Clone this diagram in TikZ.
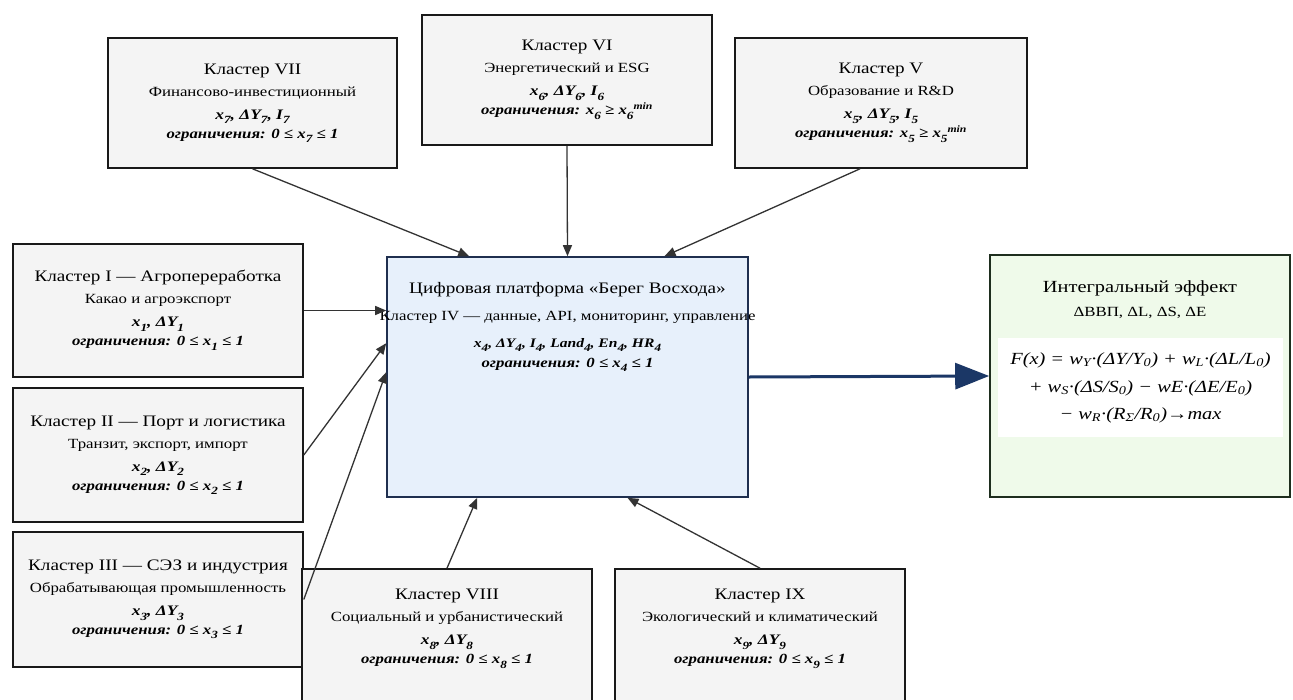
\documentclass[tikz,border=0pt]{standalone}
\usepackage{fontspec}
\setmainfont{Liberation Serif}[FakeStretch=1.2]
\usetikzlibrary{arrows.meta,calc}
\newcommand{\fsz}[1]{\fontsize{#1}{21}\selectfont}
\newcommand{\sbs}[1]{\textsubscript{#1}}
\newcommand{\bsb}[1]{\raisebox{-0.32em}{\fontsize{11}{12}\selectfont #1}}
\newcommand{\mth}{\bfseries\itshape}
\definecolor{clfill}{HTML}{F4F4F4}
\definecolor{cfill}{HTML}{E7F0FB}
\definecolor{cborder}{HTML}{1F2F4F}
\definecolor{rfill}{HTML}{EFFAEA}
\definecolor{rborder}{HTML}{1E2E1E}
\definecolor{navy}{HTML}{1B3766}
\definecolor{conncol}{HTML}{333333}
\newcommand{\cltext}[4]{{\fsz{16}#1}\\[1pt]{\fsz{14}#2}\\[2pt]{\fsz{14.5}\mth #3}\\[-2pt]{\fsz{14}\mth #4}}
\begin{document}
\begin{tikzpicture}[x=1pt,y=-1pt,
  clbox/.style={draw=black!90, line width=1.6pt, fill=clfill, minimum width=290pt, minimum height=130pt, inner sep=0pt, align=center, font=\fontsize{14}{21}\selectfont},
  cltxt/.style={align=center, inner sep=0pt, font=\fontsize{14}{21}\selectfont},
  conn/.style={draw=conncol, line width=1.3pt, -{Triangle[length=11pt,width=9pt]}},
]
\clip (0,0) rectangle (1293,699);
\fill[white] (0,0) rectangle (1293,699);

% central platform
\node[draw=cborder, line width=1.6pt, fill=cfill, minimum width=361pt, minimum height=240pt, inner sep=0pt] (c) at (567.5,377) {};
\node[align=center, inner sep=0pt, font=\fontsize{14}{25}\selectfont] (ctxt) at (567.5,327)
 {{\fontsize{16}{25}\selectfont Цифровая платформа «Берег Восхода»}\\[2pt]
  Кластер IV — данные, API, мониторинг, управление\\[2pt]
  {\fontsize{13}{25}\selectfont\mth x\bsb{4}, ΔY\bsb{4}, I\bsb{4}, Land\bsb{4}, En\bsb{4}, HR\bsb{4}}\\[-5pt]
  {\fontsize{14}{25}\selectfont\mth ограничения: 0 ≤ x\bsb{4} ≤ 1}};

% top clusters
\node[clbox, minimum width=289pt] (vii) at (252.5,103)
 {\cltext{Кластер VII}{Финансово-инвестиционный}{x\bsb{7}, ΔY\bsb{7}, I\bsb{7}}{ограничения: 0 ≤ x\bsb{7} ≤ 1}};
\node[clbox] (vi) at (567,80)
 {\cltext{Кластер VI}{Энергетический и ESG}{x\bsb{6}, ΔY\bsb{6}, I\bsb{6}}{ограничения: x\bsb{6} ≥ x\bsb{6}\textsuperscript{min}}};
\node[clbox, minimum width=292pt] (v) at (881,103)
 {\cltext{Кластер V}{Образование и R\&D}{x\bsb{5}, ΔY\bsb{5}, I\bsb{5}}{ограничения: x\bsb{5} ≥ x\bsb{5}\textsuperscript{min}}};

% left clusters
\node[clbox, minimum height=133pt] (i) at (158,310.5)
 {\cltext{Кластер I — Агропереработка}{Какао и агроэкспорт}{x\bsb{1}, ΔY\bsb{1}}{ограничения: 0 ≤ x\bsb{1} ≤ 1}};
\node[clbox, minimum height=134pt] (ii) at (158,455)
 {\cltext{Кластер II — Порт и логистика}{Транзит, экспорт, импорт}{x\bsb{2}, ΔY\bsb{2}}{ограничения: 0 ≤ x\bsb{2} ≤ 1}};
\node[clbox, minimum height=135pt] (iii) at (158,599.5)
 {\cltext{Кластер III — СЭЗ и индустрия}{Обрабатывающая промышленность}{x\bsb{3}, ΔY\bsb{3}}{ограничения: 0 ≤ x\bsb{3} ≤ 1}};

% bottom clusters
\node[clbox, minimum height=140pt] (viii) at (447,639) {};
\node[cltxt] (viiit) at (447,629)
 {\cltext{Кластер VIII}{Социальный и урбанистический}{x\bsb{8}, ΔY\bsb{8}}{ограничения: 0 ≤ x\bsb{8} ≤ 1}};
\node[clbox, minimum height=140pt] (ix) at (760,639) {};
\node[cltxt] (ixt) at (760,629)
 {\cltext{Кластер IX}{Экологический и климатический}{x\bsb{9}, ΔY\bsb{9}}{ограничения: 0 ≤ x\bsb{9} ≤ 1}};

% integral effect
\node[draw=rborder, line width=1.6pt, fill=rfill, minimum width=300pt, minimum height=242pt, inner sep=0pt] (r) at (1140,376) {};
\node[align=center, inner sep=0pt, font=\fontsize{14}{24}\selectfont] (rt) at (1140,300)
 {{\fontsize{17}{24}\selectfont Интегральный эффект}\\ ΔВВП, ΔL, ΔS, ΔE};
\node[fill=white, minimum width=285pt, minimum height=99pt, inner sep=0pt, align=center, font=\fontsize{17}{30}\selectfont\itshape] (rf) at (1140.5,387.5)
 {F(x) = w\sbs{Y}·(ΔY/Y\sbs{0}) + w\sbs{L}·(ΔL/L\sbs{0})\\[-2pt]
  + w\sbs{S}·(ΔS/S\sbs{0}) − wE·(ΔE/E\sbs{0})\\[-3pt]
  − w\sbs{R}·(R\sbs{Σ}/R\sbs{0})→max};

% connectors
\draw[conn] (vii.south) -- ([xshift=83pt]c.north west);
\draw[conn] (vi.south) -- (c.north);
\draw[conn] ([xshift=-21pt]v.south) -- ([xshift=97pt]c.north);
\draw[conn] (i.east) -- (i.east -| c.west);
\draw[conn] (ii.east) -- ([yshift=-87pt]c.north west);
\draw[conn] (iii.east) -- ([yshift=-116pt]c.north west);
\draw[conn] (viii.north) -- ([xshift=91pt]c.south west);
\draw[conn] (ix.north) -- ([xshift=60pt]c.south);
\draw[draw=navy, line width=3pt, -{Triangle[length=34pt,width=26pt]}] (c.east) -- (r.west);
\end{tikzpicture}
\end{document}
